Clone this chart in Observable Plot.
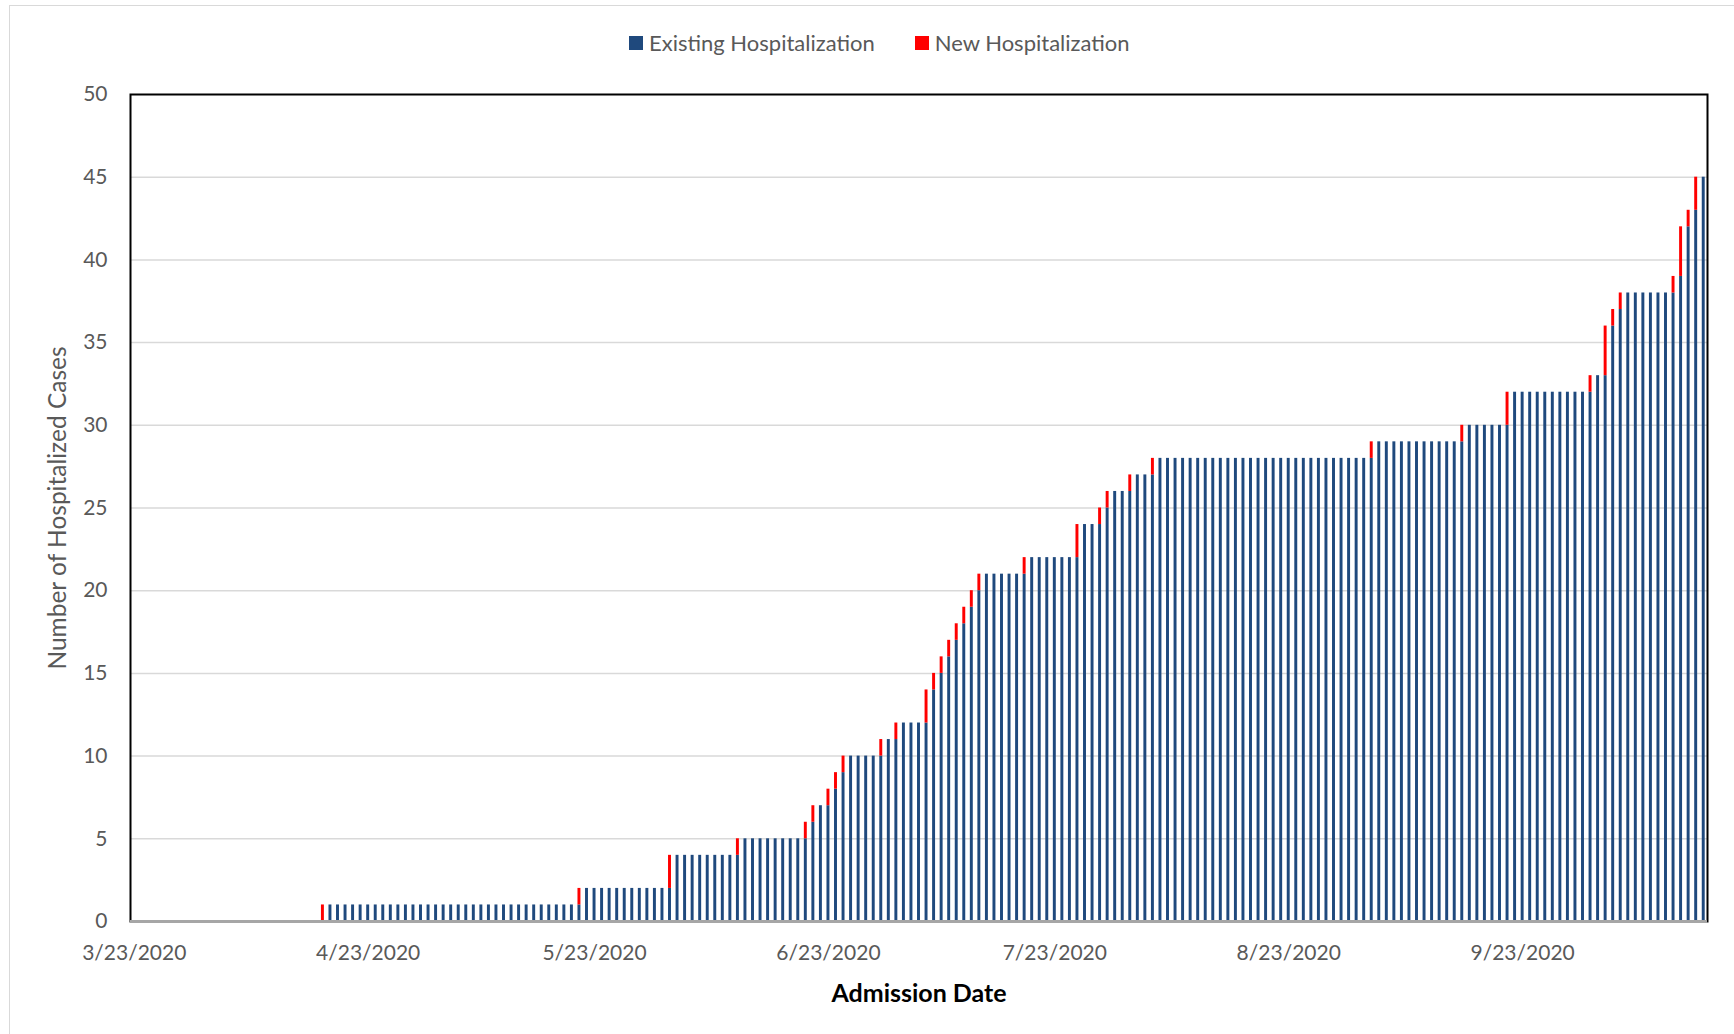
<!DOCTYPE html>
<html>
<head>
<meta charset="utf-8">
<script src="https://cdn.jsdelivr.net/npm/d3@7"></script>
<script src="https://cdn.jsdelivr.net/npm/@observablehq/plot@0.6"></script>
<style>
  html, body { margin: 0; padding: 0; background: #fff; }
  #page { position: relative; width: 1734px; height: 1034px; overflow: hidden; background: #fff; font-family: Lato, "Open Sans", sans-serif; }
  #border { position: absolute; left: 9px; top: 5px; width: 1740px; height: 1040px; border-left: 1px solid #d9d9d9; border-top: 1px solid #d9d9d9; box-sizing: border-box; }
  #legend { position: absolute; top: 29px; left: 629px; display: flex; align-items: center; font-size: 22px; color: #595959; white-space: nowrap; }
  #legend .sw { display: inline-block; width: 14px; height: 14px; margin-right: 6px; }
  #legend .item { display: flex; align-items: center; }
  #chart { position: absolute; left: 0; top: 70px; }
  #chart g[aria-label="x-axis label"] text { font-weight: bold; fill: #000; font-size: 25px; }
  #chart g[aria-label="y-axis label"] text { fill: #595959; font-size: 24.5px; }
</style>
</head>
<body>
<div id="page">
  <div id="border"></div>
  <div id="legend"></div>
  <div id="chart"></div>
</div>
<script>
// ---- Data ----
const startDate = "2020-03-23";
const endDate = "2020-10-17";
const admissionDates = ["2020-04-17","2020-05-21","2020-06-02","2020-06-11","2020-06-20","2020-06-21","2020-06-23","2020-06-24","2020-06-25","2020-06-30","2020-07-02","2020-07-06","2020-07-07","2020-07-08","2020-07-09","2020-07-10","2020-07-11","2020-07-12","2020-07-13","2020-07-19","2020-07-26","2020-07-29","2020-07-30","2020-08-02","2020-08-05","2020-09-03","2020-09-15","2020-09-21","2020-10-02","2020-10-04","2020-10-05","2020-10-06","2020-10-13","2020-10-14","2020-10-15","2020-10-16"];
const admissionCounts = [1,1,2,1,1,1,1,1,1,1,1,2,1,1,1,1,1,1,1,1,2,1,1,1,1,1,1,2,1,3,1,1,1,3,1,2];
const seriesNames = ["Existing Hospitalization", "New Hospitalization"];
const seriesColors = ["#1f497d", "#ff0000"];
const xTickDates = ["2020-03-23","2020-04-23","2020-05-23","2020-06-23","2020-07-23","2020-08-23","2020-09-23"];
const yTicks = [0,5,10,15,20,25,30,35,40,45,50];

// ---- Build daily table ----
const parse = d3.utcParse("%Y-%m-%d");
const newByDay = new Map(admissionDates.map((d, i) => [+parse(d), admissionCounts[i]]));
const start = parse(startDate), end = parse(endDate);
const days = [];
let cum = 0;
for (const date of d3.utcDay.range(start, d3.utcDay.offset(end, 1))) {
  const n = newByDay.get(+date) || 0;
  days.push({date, existing: cum, newCases: n, total: cum + n});
  cum += n;
}
const half = 12 * 3600 * 1000;
const X1 = d => new Date(+d.date - half);
const X2 = d => new Date(+d.date + half);

// ---- Legend ----
const legend = document.getElementById("legend");
seriesNames.forEach((name, i) => {
  const item = document.createElement("div");
  item.className = "item";
  if (i > 0) item.style.marginLeft = "40px";
  item.innerHTML = `<span class="sw" style="background:${seriesColors[i]}"></span><span>${name}</span>`;
  legend.appendChild(item);
});

// ---- Chart ----
const chart = Plot.plot({
  width: 1734,
  height: 960,
  marginLeft: 130,
  marginRight: 27,
  marginTop: 24,
  marginBottom: 109,
  style: {fontFamily: "Lato, 'Open Sans', sans-serif", fontSize: "21px", background: "transparent", overflow: "visible"},
  x: {type: "utc", domain: [new Date(+start - half), new Date(+end + half)]},
  y: {domain: [0, 50]},
  marks: [
    Plot.gridY(yTicks.filter(v => v > 0 && v < 50), {stroke: "#d9d9d9", strokeOpacity: 1, strokeWidth: 1.5}),
    Plot.rectY(days, {x1: X1, x2: X2, y1: 0, y2: "existing", fill: seriesColors[0], insetLeft: 2.3, insetRight: 2.3}),
    Plot.rectY(days.filter(d => d.newCases > 0), {x1: X1, x2: X2, y1: "existing", y2: "total", fill: seriesColors[1], insetLeft: 2.3, insetRight: 2.3}),
    Plot.frame({stroke: "#000", strokeWidth: 2}),
    Plot.ruleY([0], {stroke: "#a6a6a6", strokeWidth: 3}),
    Plot.axisY({ticks: yTicks, tickSize: 0, tickPadding: 23, color: "#595959", label: "Number of Hospitalized Cases", labelAnchor: "center", labelOffset: 82, labelArrow: "none"}),
    Plot.axisX({ticks: xTickDates.map(parse), tickFormat: d3.utcFormat("%-m/%-d/%Y"), tickSize: 0, tickPadding: 24, color: "#595959", label: "Admission Date", labelAnchor: "center", labelOffset: 80, labelArrow: "none"})
  ]
});
document.getElementById("chart").appendChild(chart);
</script>
</body>
</html>
